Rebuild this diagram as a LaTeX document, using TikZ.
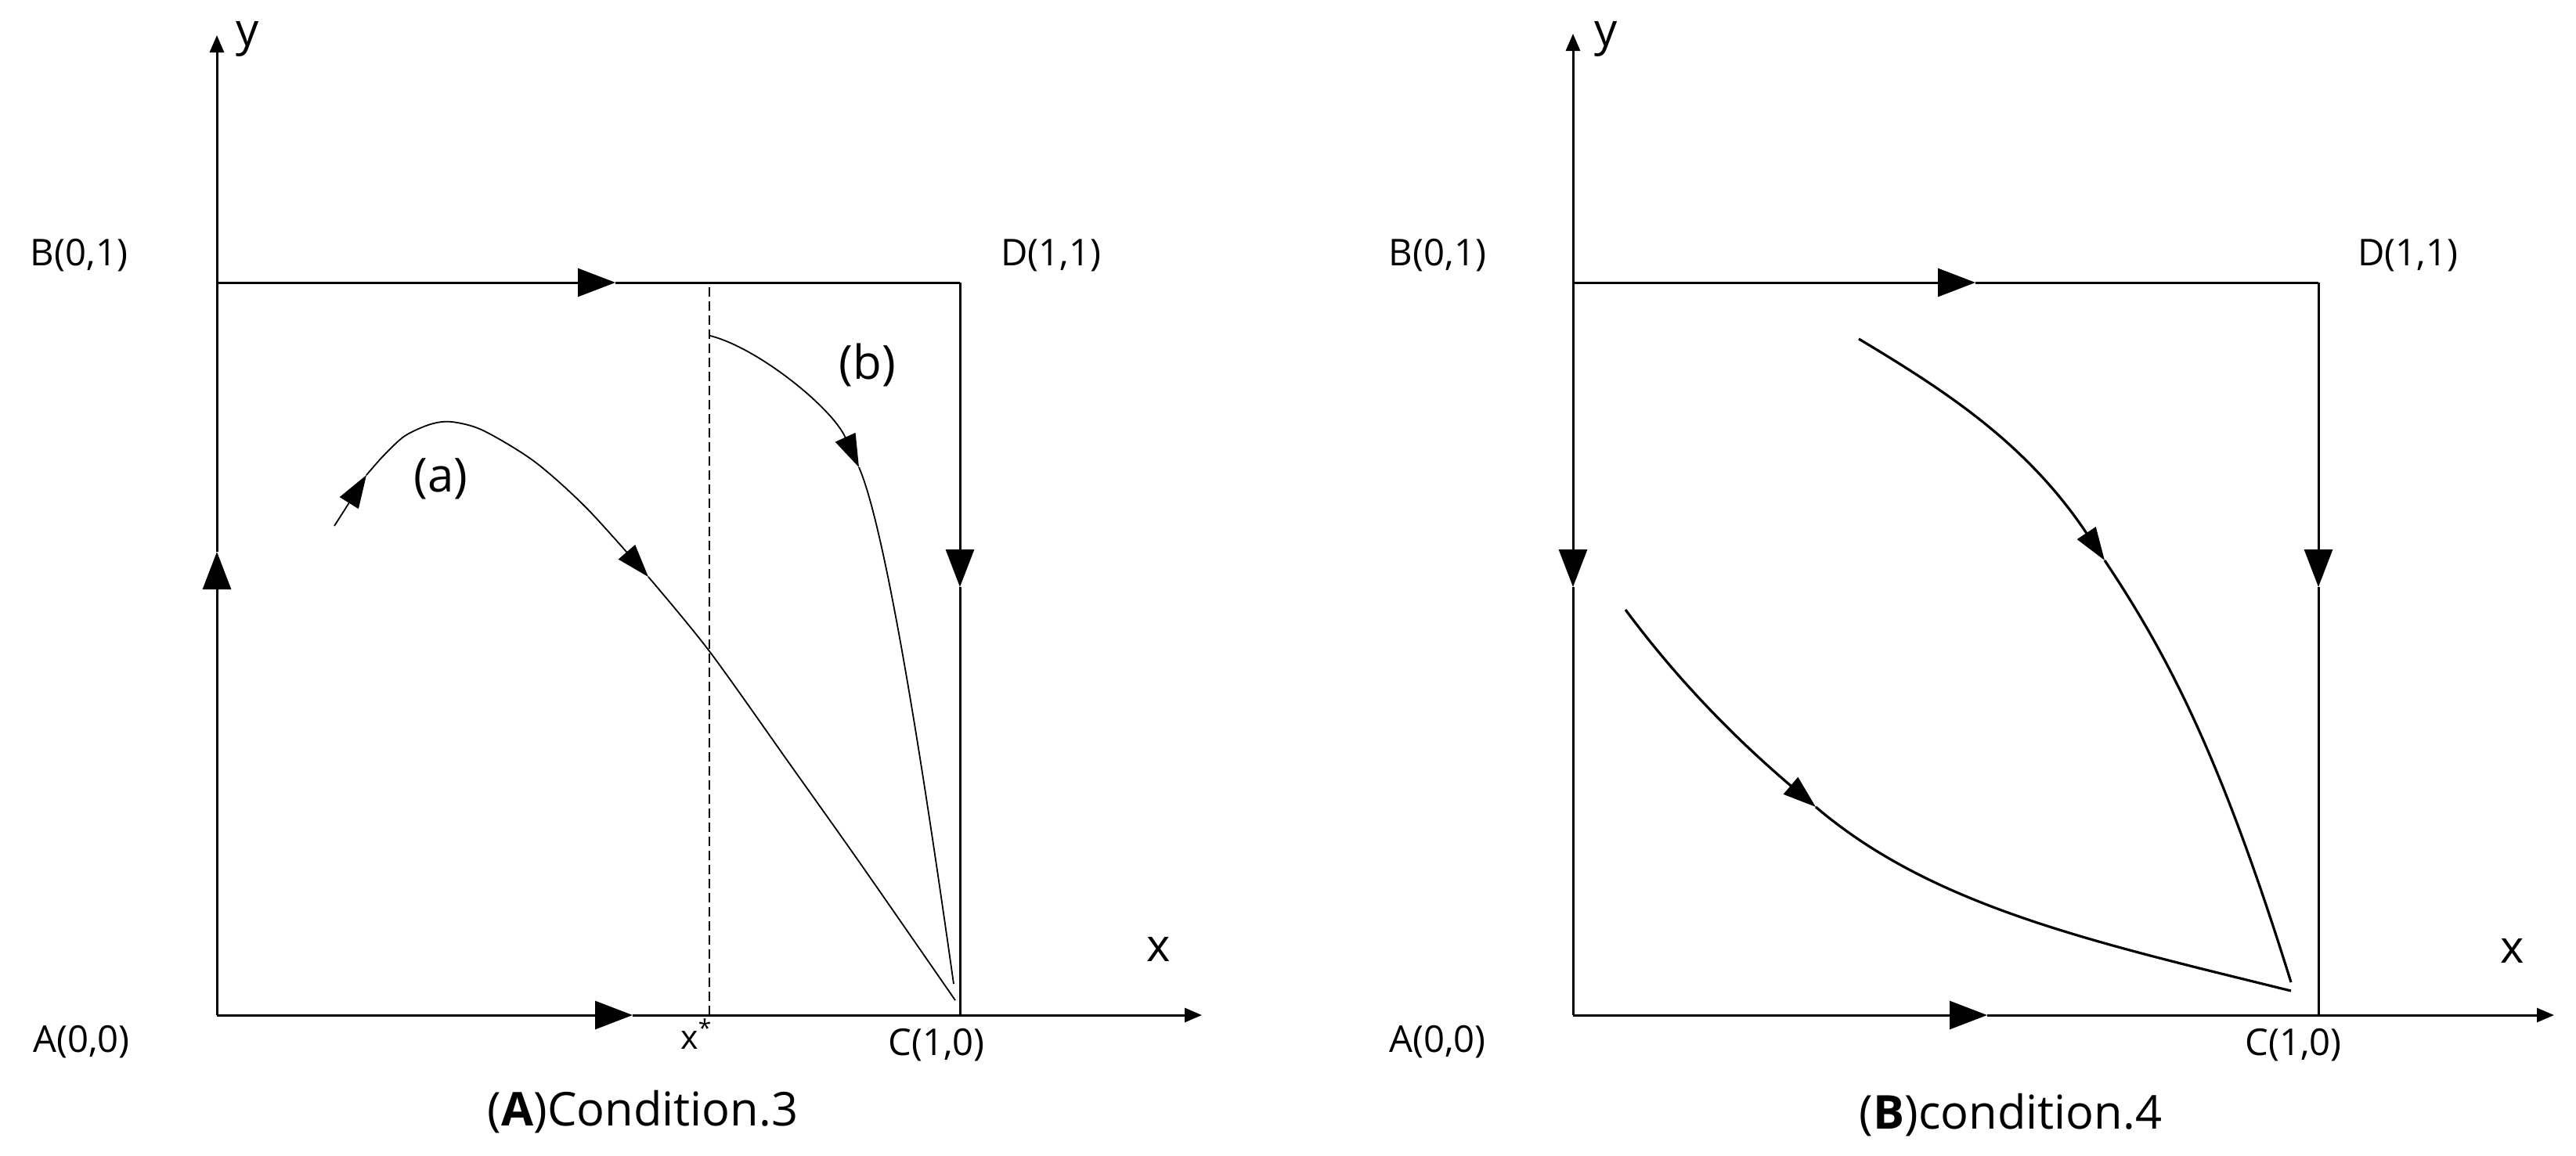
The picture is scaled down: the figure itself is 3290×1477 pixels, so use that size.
\documentclass[tikz,border=0pt]{standalone}
\usepackage{fontspec}
\setmainfont{Open Sans}
\usetikzlibrary{arrows.meta}
\begin{document}
\begin{tikzpicture}[x=0.25pt,y=-0.25pt,
  box/.style={line width=0.75pt},
  midtri/.style={-{Triangle[length=12pt,width=9pt]}},
  endtri/.style={-{Triangle[length=5.5pt,width=4.5pt]}},
  curvA/.style={line width=0.45pt},
  curvB/.style={line width=0.8pt},
  curtri/.style={-{Triangle[length=10.5pt,width=7pt]}},
  dashline/.style={line width=0.5pt,dash pattern=on 3pt off 1.5pt},
  lbl/.style={font=\fontsize{11.8pt}{14pt}\selectfont, inner sep=0pt},
  axl/.style={font=\fontsize{14.5pt}{17pt}\selectfont, inner sep=0pt},
  cvl/.style={font=\fontsize{15pt}{18pt}\selectfont, inner sep=0pt},
  captxt/.style={font=\fontsize{14.9pt}{18pt}\selectfont, inner sep=0pt},
  sml/.style={font=\fontsize{10.7pt}{13pt}\selectfont, inner sep=0pt}
]
\useasboundingbox (0,0) rectangle (3290,1477);

% ---------------- Panel A ----------------
\coordinate (A1) at (277,1297);
\coordinate (B1) at (277,361);
\coordinate (C1) at (1226,1297);
\coordinate (D1) at (1226,361);
\coordinate (Y1) at (277,45);
\coordinate (X1) at (1535,1297);
\coordinate (t1) at (786,361);
\coordinate (b1) at (808,1297);
\coordinate (l1) at (277,705);
\coordinate (r1) at (1226,750);
\coordinate (xs) at (906,1297);
\coordinate (xt) at (906,361);

\draw[box,midtri] (B1) -- (t1);
\draw[box] (t1) -- (D1);
\draw[box,midtri] (D1) -- (r1);
\draw[box] (r1) -- (C1);
\draw[box,midtri] (A1) -- (b1);
\draw[box,endtri] (b1) -- (X1);
\draw[box,midtri] (A1) -- (l1);
\draw[box,endtri] (l1) -- (Y1);
\draw[dashline] (xs) -- (xt);

% curve (a)
\coordinate (a0) at (427,672);
\coordinate (a1) at (468,607);
\coordinate (a2) at (828,737);
\coordinate (a3) at (1220,1278);
\draw[curvA,curtri] plot[smooth] coordinates {(a0) (448,639) (a1)};
\draw[curvA,curtri] plot[smooth] coordinates {(a1) (490,582) (517,557) (550,542) (577,539) (617,550) (683,590) (750,650) (a2)};
\draw[curvA] plot[smooth] coordinates {(a2) (906,832) (1010,978) (1100,1105) (a3)};

% curve (b)
\coordinate (p0) at (907,429);
\coordinate (p1) at (1097,597);
\coordinate (p2) at (1218,1257);
\draw[curvA,curtri] (p0) .. controls (967,444) and (1062,520) .. (p1);
\draw[curvA] (p1) .. controls (1137,689) and (1193,1082) .. (p2);

\node[lbl] (lB1) at (101,326) {B(0,1)};
\node[lbl] (lD1) at (1342,326) {D(1,1)};
\node[lbl] (lA1) at (104,1331) {A(0,0)};
\node[lbl] (lC1) at (1196,1335) {C(1,0)};
\node[axl] (ly1) at (316,50) {y};
\node[axl] (lx1) at (1480,1213) {x};
\node[sml] (lxs) at (890,1321) {x\textsuperscript{*}};
\node[cvl] (la) at (563,612) {(a)};
\node[cvl] (lb) at (1108,466) {(b)};
\node[captxt] (capA) at (821,1421) {(\textbf{A})Condition.3};

% ---------------- Panel B ----------------
\coordinate (A2) at (2009,1297);
\coordinate (B2) at (2009,361);
\coordinate (C2) at (2961,1297);
\coordinate (D2) at (2961,361);
\coordinate (Y2) at (2009,43);
\coordinate (X2) at (3262,1297);
\coordinate (t2) at (2523,361);
\coordinate (b2) at (2538,1297);
\coordinate (l2) at (2009,750);
\coordinate (r2) at (2961,750);

\draw[box,endtri] (B2) -- (Y2);
\draw[box,midtri] (B2) -- (l2);
\draw[box] (l2) -- (A2);
\draw[box,midtri] (B2) -- (t2);
\draw[box] (t2) -- (D2);
\draw[box,midtri] (D2) -- (r2);
\draw[box] (r2) -- (C2);
\draw[box,midtri] (A2) -- (b2);
\draw[box,endtri] (b2) -- (X2);

% upper curve
\coordinate (u0) at (2374,433);
\coordinate (u1) at (2688,716);
\coordinate (u2) at (2926,1255);
\draw[curvB,curtri] (u0) .. controls (2484,499) and (2588,566) .. (u1);
\draw[curvB] (u1) .. controls (2768,836) and (2836,965) .. (u2);

% lower curve
\coordinate (w0) at (2076,779);
\coordinate (w1) at (2319,1031);
\coordinate (w2) at (2926,1266);
\draw[curvB,curtri] (w0) .. controls (2156,887) and (2239,963) .. (w1);
\draw[curvB] (w1) .. controls (2469,1159) and (2676,1204) .. (w2);

\node[lbl] (lB2) at (1836,326) {B(0,1)};
\node[lbl] (lD2) at (3075,326) {D(1,1)};
\node[lbl] (lA2) at (1836,1331) {A(0,0)};
\node[lbl] (lC2) at (2929,1335) {C(1,0)};
\node[axl] (ly2) at (2051,50) {y};
\node[axl] (lx2) at (3209,1215) {x};
\node[captxt] (capB) at (2568,1425) {(\textbf{B})condition.4};
\end{tikzpicture}
\end{document}
